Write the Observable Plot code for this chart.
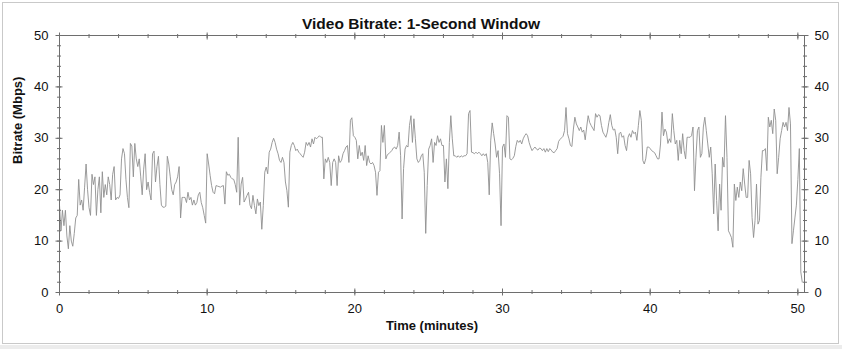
<!DOCTYPE html>
<html><head><meta charset="utf-8">
<script src="https://cdn.jsdelivr.net/npm/d3@7"></script>
<script src="https://cdn.jsdelivr.net/npm/@observablehq/plot@0.6"></script>
<style>
html,body{margin:0;padding:0;background:#fff;}
#wrap{position:relative;width:842px;height:349px;overflow:hidden;background:#fff;}
#border{position:absolute;left:2px;top:2px;width:835px;height:340px;border:1px solid #c9c9c9;pointer-events:none;}
#strip{position:absolute;left:0;top:345px;width:842px;height:4px;background:#ececec;}
</style></head><body>
<div id="wrap"><div id="chart"></div><div id="border"></div><div id="strip"></div></div>
<script>
// ---- data (Mbps, one reading every 0.1 minute) ----
const title = "Video Bitrate: 1-Second Window";
const xLabel = "Time (minutes)";
const yLabel = "Bitrate (Mbps)";
const sampleStepMinutes = 0.1;
const bitrate = [
17,12,16,13,16,11,8.5,13,10,9,
11.5,14.5,15,22,17,18,16,20.5,25,20,
16.5,15,23,21,22.5,15,20,22.5,15.5,23.5,
18.5,21,19,22.5,21,18,23,24.5,18,18.5,
18.3,19,26,28,27,22,18.5,16.5,29,28.5,
22.5,29,26,24.5,26,22.5,19,24,27,20,
21.5,19.5,18,27,27.5,21.5,24.5,26.5,21,17,
16.6,16.6,16.8,26.5,25,22.5,20,19,21,21.5,
22.5,24.5,14.5,18.5,18.5,18.5,17.5,19.5,18,18.5,
17,18,17,17.5,19,19.5,17.5,16.5,15,13.5,
27,25,22.8,20.8,19.5,19.2,20.8,20.7,20.6,20.5,
20.7,20.8,17.2,23.5,22.8,23,22.4,22.1,22,21,
19.5,30.2,17,21.1,22.4,17.6,18.2,18.9,19.5,17,
16.3,18.9,16.9,15.3,18.2,16.9,17.6,12.3,16.9,23.4,
24.4,23.1,27.3,27.9,29.2,30,29.2,27.9,27,25.7,
25.3,26.3,25.3,21.5,19.8,16.6,27.3,28.6,29.2,28.6,
27.6,27.9,27.3,27,26.6,26.3,27.3,29.2,28.6,29.2,
28.3,29.9,28.9,30.2,29.9,30.2,30.5,30.2,30.2,22.1,
26,25.3,26.3,25.3,20.8,25.3,26,25.3,20.8,26.6,
25.3,25.7,27,27.6,28.3,28.6,25.3,33.5,34,30.5,
30.2,29.6,26,28.6,26.6,27.3,25.7,28.6,24.7,26.6,
25.3,25,25.3,24.7,23.4,18.9,23.4,23.7,32.5,29.2,
32.5,26,26.8,27,27.3,27.6,28.1,28.3,27.9,28.6,
31.2,26.6,14.3,24.1,27.9,28.6,28.3,32.5,34.4,29.2,
33.8,29.9,26,25.3,25.7,26.6,27,23.4,11.5,20.8,
27.9,28.6,29.9,25.3,29.2,28.6,30.5,29.2,29.9,28.6,
28.6,21.5,26,20.2,29.2,34.4,29.9,26.6,26.6,26.3,
26.6,26.3,26.6,26.4,26.6,26.6,27,34.8,35.4,27.3,
27.2,27,27.3,27,27.3,27,26.6,27,26.6,27,
25.3,19,29.5,33,30.9,28.9,26.3,27.6,23.1,13,
28.3,28.9,26.3,34.4,34.1,26,25.8,26.1,26.6,28.4,
29.6,29.2,29.6,28.9,29.9,30.5,30.9,30.5,29.2,28.3,
27.6,28,28.3,27.9,27.7,28.1,28,27.6,28,27.3,
28,27.4,28,27.7,27.3,27.2,27.6,28,29.4,29.8,
30.1,30.4,31.5,36,30.9,29.9,28.6,28.4,31.8,34.1,
32.8,32.2,31.5,32.2,31.2,31.6,29.7,32.2,34.4,33.1,
32.5,32,31.5,34.8,34.1,34.6,34.4,32.5,31.2,30.7,
30.2,31.2,33.1,34.6,32.5,31.6,31.8,30.2,27,30.9,
31.2,30.2,30.5,28.6,27.6,30.2,30.9,30.2,31.5,30.9,
31.2,29.6,32.5,35.4,33.5,25.7,25,26,28.3,28.3,
28,27.6,27.4,27.2,26.6,26,26,28.9,35.1,30.5,
31.8,31.2,29,29.9,29.2,34.8,31.5,28.9,29.6,25.7,
29.6,27,30.9,27.6,26,30.2,30.2,30.2,30.5,32.2,
19.8,26.3,31.5,32.2,26.3,27,32.2,34.1,31.5,28.9,
26.3,28.3,23.1,15.3,25,17.9,12,21.1,16,26.3,
24.4,34.4,26.3,12,11.4,10.7,8.8,21.1,17.9,20.5,
18.5,21.5,19.8,24.1,21.1,18.5,18.5,25.7,23.1,14.6,
10.7,14,21.1,13.3,14,22.4,27.6,27.6,28,23.7,
34.1,32.2,33.5,30.9,35.7,33.5,23.1,26.3,29.9,31.5,
33.1,32.2,33.1,31.5,36,32.8,9.5,12,14.5,17,
22,28,4,2
];
const xMajorTicks = [0, 10, 20, 30, 40, 50];
const yMajorTicks = [0, 10, 20, 30, 40, 50];
const xMinorTicks = d3.range(0, 51, 2);
const yMinorTicks = d3.range(0, 51, 2);
const xDomain = [0, 50.45];
const yDomain = [0, 50];

const rows = bitrate.map((v, i) => ({t: i * sampleStepMinutes, v}));
const font = "'Liberation Sans', Arial, sans-serif";
const axisColor = "#6e6e6e";
const blank = () => "";

function bothWays(fn, values, anchor, size, labelOpts) {
  return [
    fn(values, {anchor, tickSize: size, stroke: axisColor, label: null, tickFormat: blank}),
    fn(values, {anchor, tickSize: -size, stroke: axisColor, label: null, tickFormat: blank}),
    ...(labelOpts ? [fn(values, {anchor, tickSize: 0, label: null, fontSize: 13, ...labelOpts})] : [])
  ];
}

const chart = Plot.plot({
  width: 842,
  height: 349,
  marginLeft: 59,
  marginRight: 38,
  marginTop: 35,
  marginBottom: 57,
  style: {fontFamily: font, fontSize: "13px", color: "#111", background: "transparent"},
  x: {domain: xDomain},
  y: {domain: yDomain},
  marks: [
    Plot.line(rows, {x: "t", y: "v", stroke: "#909090", strokeWidth: 0.9}),
    Plot.frame({stroke: axisColor}),
    ...bothWays(Plot.axisX, xMinorTicks, "bottom", 2),
    ...bothWays(Plot.axisX, xMinorTicks, "top", 2),
    ...bothWays(Plot.axisY, yMinorTicks, "left", 2),
    ...bothWays(Plot.axisY, yMinorTicks, "right", 2),
    ...bothWays(Plot.axisX, xMajorTicks, "bottom", 3.5, {tickPadding: 11, tickFormat: d => String(d)}),
    ...bothWays(Plot.axisX, xMajorTicks, "top", 3.5),
    ...bothWays(Plot.axisY, yMajorTicks, "left", 3.5, {tickPadding: 11, tickFormat: d => String(d)}),
    ...bothWays(Plot.axisY, yMajorTicks, "right", 3.5, {tickPadding: 10, tickFormat: d => String(d)}),
    Plot.text([title], {frameAnchor: "top", dy: -18, dx: -11, fontWeight: "bold", fontSize: 15.5, fill: "#111"}),
    Plot.text([yLabel], {frameAnchor: "left", dx: -42, rotate: -90, fontWeight: "bold", fontSize: 13, fill: "#111"}),
    Plot.text([xLabel], {frameAnchor: "bottom", dy: 37, fontWeight: "bold", fontSize: 13, fill: "#111"})
  ]
});
document.getElementById("chart").appendChild(chart);
</script>
</body></html>
